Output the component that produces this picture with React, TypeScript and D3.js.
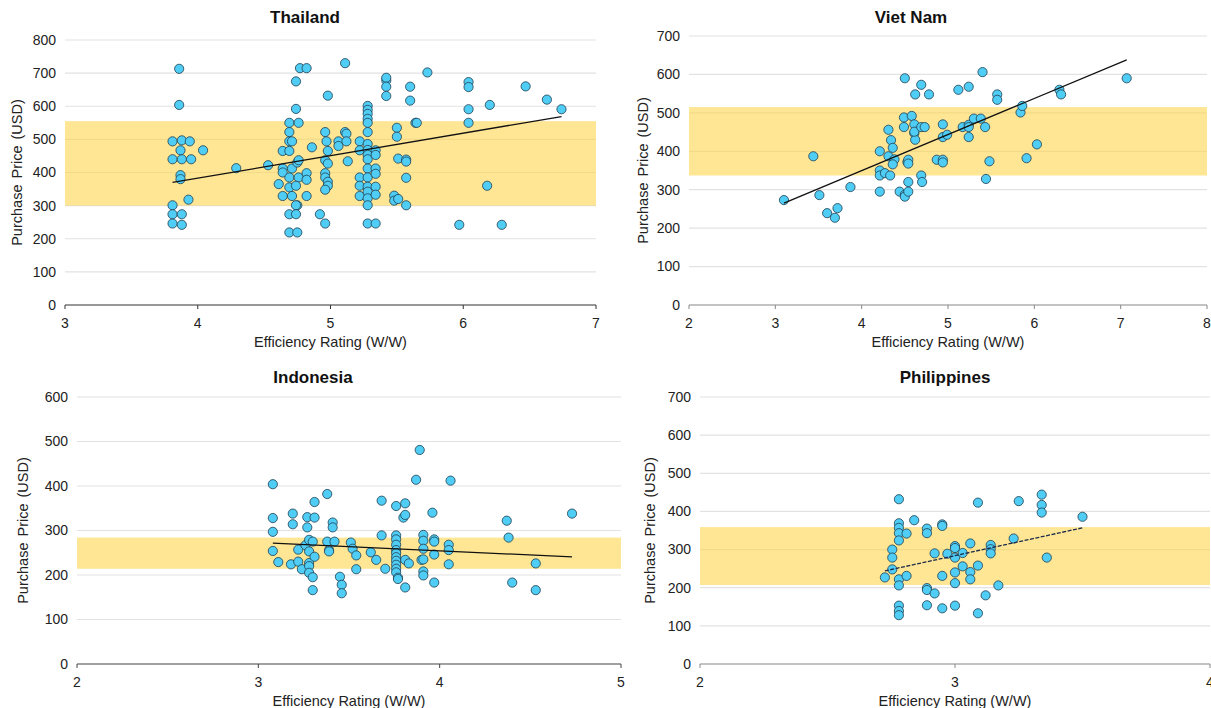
import React from 'react';
import * as d3 from 'd3';

// efficiency rating (W/W), purchase price (USD)
const thailand: [number, number][] = [
  [3.86, 713], [3.86, 604], [3.81, 494], [3.88, 497], [3.94, 494], [3.87, 467], [3.81, 440], [3.88, 440],
  [3.95, 440], [4.04, 467], [3.87, 392], [3.87, 380], [3.93, 318], [3.81, 301], [3.81, 274], [3.88, 274],
  [3.81, 246], [3.88, 242], [4.29, 413], [4.53, 422],
  [4.77, 715], [4.82, 715], [4.74, 675], [4.74, 592], [4.69, 550], [4.76, 550], [4.69, 522], [4.69, 494],
  [4.71, 494], [4.64, 465], [4.69, 465], [4.64, 412], [4.64, 400], [4.71, 412], [4.75, 430], [4.76, 437],
  [4.69, 385], [4.76, 385], [4.61, 365], [4.69, 355], [4.74, 360], [4.64, 329], [4.71, 329], [4.75, 301],
  [4.74, 301], [4.69, 274], [4.74, 274], [4.69, 219], [4.75, 219], [4.82, 398], [4.82, 378], [4.82, 329],
  [4.86, 476], [4.92, 274], [4.96, 246],
  [4.98, 632], [4.96, 522], [4.97, 494], [4.98, 465], [4.96, 437], [4.98, 427], [4.96, 398], [4.96, 385],
  [4.98, 372], [4.98, 360], [4.96, 348], [5.06, 494], [5.06, 480], [5.11, 730], [5.11, 522], [5.12, 517],
  [5.12, 494], [5.13, 434],
  [5.22, 494], [5.22, 467], [5.22, 385], [5.22, 360], [5.22, 329], [5.28, 601], [5.28, 589], [5.28, 577],
  [5.28, 562], [5.28, 550], [5.28, 522], [5.28, 486], [5.28, 468], [5.28, 453], [5.28, 440], [5.28, 412],
  [5.28, 385], [5.28, 357], [5.28, 342], [5.28, 322], [5.28, 301], [5.28, 246], [5.34, 467], [5.34, 453],
  [5.34, 412], [5.34, 396], [5.34, 357], [5.34, 333], [5.34, 246],
  [5.42, 678], [5.42, 686], [5.42, 659], [5.42, 631], [5.5, 535], [5.5, 508], [5.51, 442], [5.48, 330],
  [5.48, 315], [5.51, 320], [5.57, 439], [5.57, 433], [5.57, 384], [5.57, 301], [5.6, 659], [5.6, 617],
  [5.64, 550], [5.65, 550], [5.73, 702],
  [6.04, 673], [6.04, 658], [6.04, 591], [6.04, 550], [5.97, 242], [6.18, 360], [6.2, 604], [6.29, 242],
  [6.47, 660], [6.63, 620], [6.74, 591],
];

const vietNam: [number, number][] = [
  [3.1, 273], [3.44, 387], [3.51, 286], [3.6, 239], [3.69, 227], [3.72, 252], [3.87, 307], [4.21, 400],
  [4.21, 350], [4.21, 337], [4.21, 295], [4.27, 343], [4.31, 456], [4.31, 387], [4.33, 337], [4.34, 429],
  [4.36, 409], [4.38, 379], [4.36, 366], [4.44, 295], [4.49, 488], [4.49, 463], [4.5, 590], [4.5, 287],
  [4.5, 282], [4.53, 372], [4.54, 378], [4.54, 368], [4.54, 320], [4.54, 295], [4.58, 492], [4.61, 470],
  [4.61, 447], [4.62, 548], [4.62, 430], [4.61, 451], [4.69, 573], [4.69, 463], [4.73, 463], [4.69, 337],
  [4.7, 320], [4.78, 548], [4.87, 378], [4.94, 470], [4.94, 437], [4.94, 378], [4.94, 371], [4.99, 443],
  [5.12, 560], [5.17, 463], [5.24, 568], [5.24, 469], [5.24, 463], [5.24, 437], [5.3, 485], [5.38, 485],
  [5.4, 606], [5.43, 463], [5.44, 328], [5.48, 374], [5.57, 548], [5.57, 534], [5.84, 501], [5.86, 518],
  [5.91, 382], [6.03, 418], [6.29, 560], [6.31, 548], [7.07, 590],
];

const indonesia: [number, number][] = [
  [3.08, 404], [3.08, 328], [3.08, 297], [3.08, 254], [3.11, 229], [3.18, 224], [3.19, 338], [3.19, 314],
  [3.22, 257], [3.22, 230], [3.24, 213], [3.26, 267], [3.27, 330], [3.27, 307], [3.28, 279], [3.28, 253],
  [3.28, 227], [3.28, 220], [3.28, 205], [3.3, 275], [3.31, 364], [3.31, 329], [3.31, 241], [3.3, 195],
  [3.3, 166], [3.38, 382], [3.38, 275], [3.39, 256], [3.39, 253], [3.41, 318], [3.41, 307], [3.42, 275],
  [3.45, 196], [3.46, 178], [3.46, 159], [3.51, 273], [3.52, 259], [3.54, 244], [3.54, 213], [3.62, 251],
  [3.65, 234], [3.68, 367], [3.68, 289], [3.7, 214], [3.76, 355], [3.76, 289], [3.76, 280], [3.76, 268],
  [3.76, 256], [3.76, 249], [3.76, 240], [3.76, 232], [3.76, 223], [3.76, 214], [3.76, 206], [3.77, 194],
  [3.77, 191], [3.8, 329], [3.81, 361], [3.81, 335], [3.81, 234], [3.81, 172], [3.83, 226], [3.87, 414],
  [3.89, 481], [3.9, 234], [3.91, 290], [3.91, 277], [3.91, 259], [3.91, 235], [3.91, 208], [3.91, 199],
  [3.96, 340], [3.97, 280], [3.97, 275], [3.97, 246], [3.97, 183], [4.05, 268], [4.05, 256], [4.05, 224],
  [4.06, 412], [4.37, 322], [4.38, 284], [4.4, 183], [4.53, 226], [4.53, 166], [4.73, 338],
];

const philippines: [number, number][] = [
  [2.725, 227], [2.754, 300], [2.754, 279], [2.754, 248], [2.78, 432], [2.78, 369], [2.78, 357], [2.78, 343],
  [2.78, 324], [2.78, 222], [2.78, 206], [2.78, 153], [2.78, 139], [2.78, 128], [2.81, 342], [2.81, 231],
  [2.84, 377], [2.89, 355], [2.89, 343], [2.89, 199], [2.89, 194], [2.89, 154], [2.92, 290], [2.92, 185],
  [2.95, 366], [2.95, 362], [2.95, 231], [2.95, 146], [2.97, 289], [3.0, 309], [3.0, 304], [3.0, 279],
  [3.0, 240], [3.0, 212], [3.0, 153], [3.03, 291], [3.03, 256], [3.06, 316], [3.06, 241], [3.06, 222],
  [3.09, 423], [3.09, 258], [3.09, 133], [3.12, 180], [3.14, 312], [3.14, 301], [3.14, 290], [3.17, 206],
  [3.23, 329], [3.25, 427], [3.34, 444], [3.34, 417], [3.34, 397], [3.36, 279], [3.5, 386],
];

// fitted trend lines (start, end) and shaded price bands (low, high)
const trendThailand: [number, number][] = [[3.81, 370], [6.74, 569]];
const trendVietNam: [number, number][] = [[3.1, 265], [7.07, 638]];
const trendIndonesia: [number, number][] = [[3.08, 271.5], [4.73, 240.7]];
const trendPhilippines: [number, number][] = [[2.725, 244], [3.5, 357]];

const bandThailand = [300, 555];
const bandVietNam = [337, 515];
const bandIndonesia = [214, 284];
const bandPhilippines = [207, 359];

const FONT = '"Liberation Sans", Arial, sans-serif';

const panels = [
  { title: 'Thailand', data: thailand, trend: trendThailand, band: bandThailand,
    xDomain: [3, 7], yDomain: [0, 800], left: 65, right: 596, top: 40, bottom: 305,
    titleX: 305, titleY: 23, yLabelX: 17, axisColor: '#333', dashed: false },
  { title: 'Viet Nam', data: vietNam, trend: trendVietNam, band: bandVietNam,
    xDomain: [2, 8], yDomain: [0, 700], left: 689, right: 1207, top: 36, bottom: 305,
    titleX: 911, titleY: 23, yLabelX: 643, axisColor: '#888', dashed: false },
  { title: 'Indonesia', data: indonesia, trend: trendIndonesia, band: bandIndonesia,
    xDomain: [2, 5], yDomain: [0, 600], left: 77, right: 621, top: 397, bottom: 664,
    titleX: 313, titleY: 383, yLabelX: 23, axisColor: '#444', dashed: false },
  { title: 'Philippines', data: philippines, trend: trendPhilippines, band: bandPhilippines,
    xDomain: [2, 4], yDomain: [0, 700], left: 700, right: 1210, top: 397, bottom: 664,
    titleX: 945, titleY: 383, yLabelX: 650, axisColor: '#888', dashed: true },
];

const Panel = ({ p }: { p: typeof panels[number] }) => {
  const x = d3.scaleLinear().domain(p.xDomain).range([p.left, p.right]);
  const y = d3.scaleLinear().domain(p.yDomain).range([p.bottom, p.top]);
  const line = d3.line<[number, number]>().x(d => x(d[0])).y(d => y(d[1]));
  const yTicks = d3.range(p.yDomain[0], p.yDomain[1] + 1, 100);
  const xTicks = d3.range(p.xDomain[0], p.xDomain[1] + 1, 1);
  const midX = (p.left + p.right) / 2;
  const midY = (p.top + p.bottom) / 2;

  return (
    <g>
      <text x={p.titleX} y={p.titleY} textAnchor="middle" fontSize={17} fontWeight="bold" fill="#111"
        fontFamily={FONT}>{p.title}</text>
      {yTicks.filter(t => t > 0).map(t => (
        <line key={t} x1={p.left} x2={p.right} y1={y(t)} y2={y(t)} stroke="#e2e2e2" strokeWidth={1.2} />
      ))}
      <rect x={p.left} width={p.right - p.left} y={y(p.band[1])} height={y(p.band[0]) - y(p.band[1])}
        fill="#FFD54F" fillOpacity={0.6} />
      {yTicks.map(t => (
        <text key={t} x={p.left - 9} y={y(t)} dy="0.35em" textAnchor="end" fontSize={14} fill="#222"
          fontFamily={FONT}>{t}</text>
      ))}
      <line x1={p.left} x2={p.right} y1={p.bottom} y2={p.bottom} stroke={p.axisColor} strokeWidth={1.2} />
      {xTicks.map(t => (
        <g key={t}>
          <line x1={x(t)} x2={x(t)} y1={p.bottom} y2={p.bottom + 4} stroke={p.axisColor} strokeWidth={1} />
          <text x={x(t)} y={p.bottom + 23} textAnchor="middle" fontSize={14} fill="#222" fontFamily={FONT}>{t}</text>
        </g>
      ))}
      {p.data.map((d, i) => (
        <circle key={i} cx={x(d[0])} cy={y(d[1])} r={4.6} fill="#4FCDF5" stroke="#1e3d4f" strokeWidth={0.8} />
      ))}
      <path d={line(p.trend) || ''} fill="none" stroke={p.dashed ? '#1c2b4a' : '#111'} strokeWidth={1.3}
        strokeDasharray={p.dashed ? '4,1.5' : undefined} />
      <text x={midX} y={p.bottom + 42} textAnchor="middle" fontSize={14.5} fill="#222"
        fontFamily={FONT}>Efficiency Rating (W/W)</text>
      <text transform={`translate(${p.yLabelX},${midY}) rotate(-90)`} dy="0.35em" textAnchor="middle"
        fontSize={14.5} wordSpacing={2} fill="#222" fontFamily={FONT}>Purchase Price (USD)</text>
    </g>
  );
};

export default function App() {
  return (
    <div style={{ position: 'absolute', left: 0, top: 0 }}>
      <svg width={1211} height={708} style={{ display: 'block', background: '#fff' }}>
        {panels.map(p => <Panel key={p.title} p={p} />)}
      </svg>
    </div>
  );
}
